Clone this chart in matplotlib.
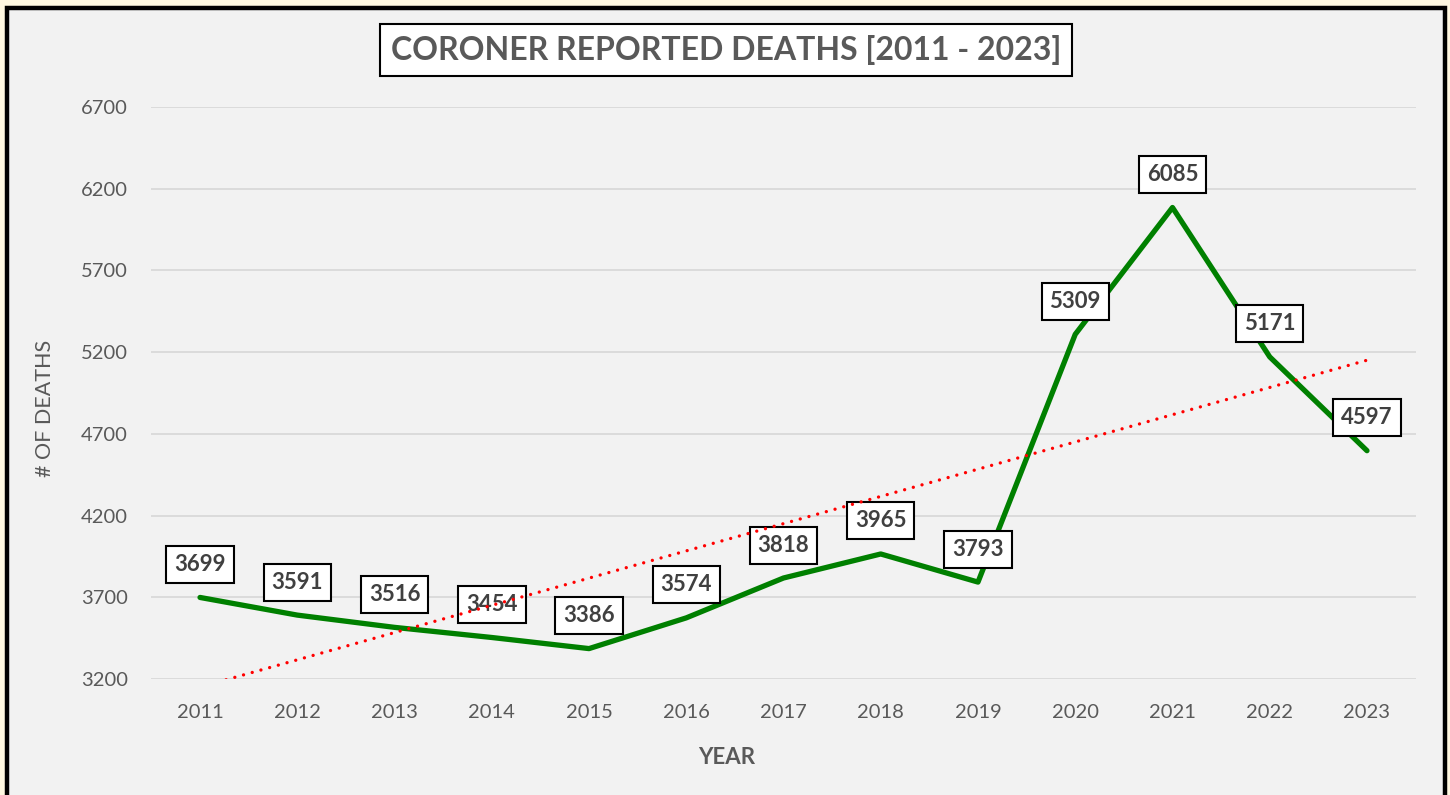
import matplotlib
matplotlib.use("Agg")
import matplotlib.pyplot as plt
from matplotlib.patches import Rectangle
import numpy as np

years = ["2011", "2012", "2013", "2014", "2015", "2016", "2017",
         "2018", "2019", "2020", "2021", "2022", "2023"]
deaths = [3699, 3591, 3516, 3454, 3386, 3574, 3818, 3965, 3793, 5309, 6085, 5171, 4597]
y_ticks = [3200, 3700, 4200, 4700, 5200, 5700, 6200, 6700]

plt.rcParams['font.family'] = ['Lato', 'DejaVu Sans']

W, H = 1450, 795
fig = plt.figure(figsize=(W / 100, H / 100), dpi=100)
fig.patch.set_facecolor('#FFF8E1')

# inner panel with black border (bottom edge off-canvas)
fig.patches.append(Rectangle((7 / W, -0.05), (1445 - 7) / W, 1.05 - 8 / H,
                             transform=fig.transFigure, facecolor='#F2F2F2',
                             edgecolor='black', linewidth=3.2, zorder=-5))

ax = fig.add_axes([151.4 / W, 116 / H, (1415.6 - 151.4) / W, (688 - 116) / H])
ax.set_facecolor('none')
ax.set_zorder(2)
x = np.arange(len(years))

ax.set_xlim(-0.5, len(years) - 0.5)
ax.set_ylim(3200, 6700)
ax.set_yticks(y_ticks)
ax.set_xticks(x)
ax.set_xticklabels(years)
ax.grid(axis='y', color='#D9D9D9', linewidth=1.3)
ax.set_axisbelow(True)
for s in ax.spines.values():
    s.set_visible(False)
ax.tick_params(axis='both', length=0, labelsize=14.5, labelcolor='#595959')
ax.tick_params(axis='x', pad=18)
ax.tick_params(axis='y', pad=17)

ax.plot(x, deaths, color='#008000', linewidth=3.8, solid_capstyle='round',
        solid_joinstyle='round', zorder=3, clip_on=False)

# linear trend line
coef = np.polyfit(x, deaths, 1)
trend = np.polyval(coef, x)
ax.plot(x, trend, color='#FF0000', linewidth=2.4, linestyle=(0, (0.01, 2.7)),
        dash_capstyle='round', zorder=5)

for xi, v in zip(x, deaths):
    ax.annotate(str(v), (xi, v), xytext=(0, 33), textcoords='offset pixels',
                ha='center', va='center', fontsize=16, fontweight='bold',
                color='#404040', zorder=4,
                bbox=dict(boxstyle='square,pad=0.36', facecolor='white',
                          edgecolor='black', linewidth=1.5))

fig.text(726 / W, 1 - 50 / H, 'CORONER REPORTED DEATHS [2011 - 2023]',
         ha='center', va='center', fontsize=23, fontweight='bold', color='#595959',
         bbox=dict(boxstyle='square,pad=0.35', facecolor='white',
                   edgecolor='black', linewidth=1.5))
fig.text(727 / W, 1 - 758 / H, 'YEAR', ha='center', va='center',
         fontsize=16, fontweight='bold', color='#595959')
fig.text(45 / W, 1 - 408 / H, '# OF DEATHS', ha='center', va='center',
         rotation=90, fontsize=15.5, color='#595959')

fig.savefig('out.png', dpi=100, facecolor=fig.get_facecolor())
